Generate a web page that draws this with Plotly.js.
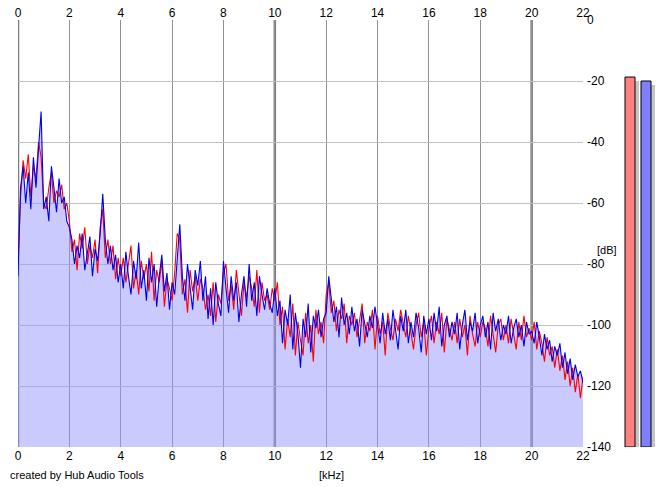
<!DOCTYPE html>
<html>
<head>
<meta charset="utf-8">
<script src="https://cdn.plot.ly/plotly-3.0.1.min.js"></script>
<style>html,body{margin:0;padding:0;background:#fff;}#chart{width:665px;height:487px;}</style>
</head>
<body>
<div id="chart"></div>
<script>
// Frequency axis (kHz), one value every 0.1 kHz from 0 to 22
var freqKHz = [];
for (var i = 0; i <= 220; i++) { freqKHz.push(Math.round(i) / 10); }

// Left channel (red) spectrum, dB
var leftDb = [
-80,-58,-46,-52,-44,-58,-48,-52,-40,-45,
-60,-62,-55,-50,-60,-56,-58,-54,-62,-60,
-66,-76,-72,-82,-70,-75,-68,-80,-74,-78,
-72,-83,-68,-62,-78,-72,-80,-74,-85,-78,
-84,-78,-86,-80,-74,-88,-82,-90,-79,-85,
-80,-89,-76,-92,-82,-86,-79,-94,-85,-88,
-92,-83,-70,-72,-90,-85,-96,-82,-89,-84,
-92,-85,-88,-95,-90,-97,-86,-99,-90,-93,
-83,-80,-92,-87,-95,-82,-90,-97,-86,-91,
-84,-88,-94,-82,-96,-86,-92,-90,-95,-88,
-92,-86,-100,-94,-108,-98,-104,-93,-110,-99,
-105,-110,-96,-106,-100,-112,-95,-103,-99,-106,
-90,-86,-96,-92,-102,-95,-98,-93,-106,-97,
-100,-96,-104,-98,-93,-106,-99,-102,-95,-108,
-97,-103,-99,-110,-96,-101,-105,-98,-102,-95,
-99,-104,-97,-102,-108,-100,-96,-104,-99,-110,
-101,-97,-106,-99,-103,-96,-109,-98,-102,-105,
-99,-106,-98,-104,-100,-110,-97,-103,-107,-99,
-104,-99,-101,-107,-97,-103,-109,-100,-98,-105,
-100,-106,-98,-103,-108,-99,-105,-97,-104,-101,
-105,-99,-108,-102,-106,-112,-104,-110,-107,-114,
-108,-115,-110,-118,-112,-120,-114,-122,-116,-124,-117
];

// Right channel (blue) spectrum, dB
var rightDb = [
-84,-55,-48,-60,-50,-62,-45,-55,-42,-30,
-62,-58,-66,-48,-55,-63,-52,-60,-58,-66,
-68,-72,-80,-74,-78,-70,-82,-76,-71,-84,
-75,-79,-70,-57,-72,-80,-74,-82,-77,-86,
-80,-88,-76,-84,-90,-79,-85,-73,-88,-82,
-92,-78,-86,-80,-94,-84,-77,-89,-83,-95,
-86,-90,-78,-67,-84,-92,-80,-88,-95,-82,
-87,-79,-92,-84,-98,-88,-100,-86,-93,-97,
-79,-88,-96,-84,-92,-86,-99,-90,-84,-94,
-80,-92,-86,-97,-84,-90,-95,-88,-93,-96,
-88,-97,-92,-106,-95,-100,-90,-108,-96,-103,
-114,-98,-104,-93,-109,-97,-101,-95,-104,-98,
-96,-84,-92,-99,-94,-104,-91,-100,-96,-103,
-94,-102,-98,-107,-95,-100,-104,-97,-101,-94,
-100,-106,-96,-103,-98,-105,-95,-101,-108,-97,
-102,-95,-106,-99,-104,-96,-101,-109,-97,-103,
-98,-105,-96,-102,-94,-107,-100,-97,-104,-99,
-103,-96,-108,-100,-95,-105,-99,-102,-96,-106,
-100,-97,-104,-99,-108,-96,-102,-98,-105,-100,
-103,-97,-106,-101,-98,-104,-100,-107,-99,-103,
-102,-106,-99,-104,-110,-103,-108,-105,-112,-107,
-110,-106,-114,-109,-116,-111,-118,-113,-117,-115,-119
];

// Level meters (dB): left, right
var meterNames = ['L', 'R'];
var meterDb = [-18.7, -20];

var xTicks = [0,2,4,6,8,10,12,14,16,18,20,22];
var yTicks = [0,-20,-40,-60,-80,-100,-120,-140];
var majorLines = [0,10,20];

var yMin = -140, yMax = 0;
var floorDb = freqKHz.map(function(){ return yMin; });

var W = 665, H = 487, mL = 18, mR = 5, mT = 20, mB = 40;
var paperW = W - mL - mR;
var plotRightPx = 583;
var xDomEnd = (plotRightPx - mL) / paperW;
var meterPxL = 620, meterPxR = 658;
var shadowDb = 4 / ((447 - 20) / 140);

var traces = [
  {x: freqKHz, y: floorDb, type: 'scatter', mode: 'lines', line: {width: 0, color: 'rgba(0,0,0,0)'},
   hoverinfo: 'skip', showlegend: false},
  {x: freqKHz, y: rightDb, type: 'scatter', mode: 'lines', fill: 'tonexty',
   fillcolor: 'rgba(150,150,255,0.5)', line: {width: 0, color: 'rgba(0,0,0,0)'},
   hoverinfo: 'skip', showlegend: false},
  {x: freqKHz, y: leftDb, type: 'scatter', mode: 'lines', line: {color: '#ff0000', width: 1.1},
   name: 'L', showlegend: false},
  {x: freqKHz, y: rightDb, type: 'scatter', mode: 'lines', line: {color: '#0000ee', width: 1.1},
   name: 'R', showlegend: false},
  // dummy trace to display the top axis
  {x: freqKHz, y: freqKHz.map(function(){ return null; }), xaxis: 'x2', yaxis: 'y',
   type: 'scatter', mode: 'lines', hoverinfo: 'skip', showlegend: false},
  // meter shadows
  {x: [630 + 4, 646 + 4], y: meterDb.map(function(v){ return v - yMin; }), base: [yMin - shadowDb, yMin - shadowDb],
   type: 'bar', xaxis: 'x3', yaxis: 'y3', width: 10, marker: {color: '#c4c4c4', line: {width: 0}},
   hoverinfo: 'skip', showlegend: false, cliponaxis: false},
  {x: [630, 646], y: meterDb.map(function(v){ return v - yMin; }), base: [yMin, yMin],
   type: 'bar', xaxis: 'x3', yaxis: 'y3', width: 10,
   marker: {color: ['#ff8080', '#8080ff'], line: {color: '#000000', width: 1}},
   text: meterNames, textposition: 'none', hoverinfo: 'skip', showlegend: false, cliponaxis: false}
];

var tickFont = {family: 'Liberation Sans, Arial, sans-serif', size: 12, color: '#000'};

var shapes = majorLines.map(function(v){
  return {type: 'line', xref: 'x', yref: 'y', x0: v, x1: v, y0: yMin, y1: yMax,
          line: {color: '#7c7c7c', width: 2.5}, layer: 'below'};
});

var layout = {
  width: W, height: H,
  margin: {l: mL, r: mR, t: mT, b: mB, pad: 0},
  paper_bgcolor: '#ffffff', plot_bgcolor: '#ffffff',
  showlegend: false,
  hovermode: false,
  barmode: 'overlay',
  xaxis: {range: [0, 22], domain: [0, xDomEnd], tickvals: xTicks, ticktext: xTicks.map(String),
          showgrid: true, gridcolor: '#909090', gridwidth: 1, zeroline: false, showline: false,
          ticks: '', tickfont: tickFont, fixedrange: true, anchor: 'y'},
  xaxis2: {range: [0, 22], overlaying: 'x', side: 'top', matches: 'x', tickvals: xTicks,
           ticktext: xTicks.map(String), showgrid: false, zeroline: false, showline: false,
           ticks: '', tickfont: tickFont, anchor: 'y'},
  yaxis: {range: [yMin, yMax], domain: [0, 1], side: 'right', anchor: 'x', tickvals: yTicks,
          ticktext: yTicks.map(String), showgrid: true, gridcolor: '#c0c0c0', gridwidth: 1,
          zeroline: false, showline: false, ticks: '', tickfont: tickFont, fixedrange: true,
          ticklabelstandoff: 3},
  xaxis3: {domain: [(meterPxL - mL) / paperW, (meterPxR - mL) / paperW], range: [meterPxL, meterPxR],
           visible: false, anchor: 'y3', fixedrange: true},
  yaxis3: {domain: [0, 1], range: [yMin, yMax], visible: false, anchor: 'x3', fixedrange: true},
  shapes: shapes,
  annotations: [
    {text: 'created by Hub Audio Tools', xref: 'paper', yref: 'paper', x: (8 - mL) / paperW, y: -0.066,
     xanchor: 'left', yanchor: 'middle', showarrow: false,
     font: {family: 'Liberation Sans, Arial, sans-serif', size: 11, color: '#000'}},
    {text: '[kHz]', xref: 'x', yref: 'paper', x: 12.2, y: -0.048, xanchor: 'center', yanchor: 'top',
     showarrow: false, font: {family: 'Liberation Sans, Arial, sans-serif', size: 11, color: '#000'}},
    {text: '[dB]', xref: 'paper', yref: 'y', x: (607 - mL) / paperW, y: -75.5, xanchor: 'center',
     yanchor: 'middle', showarrow: false,
     font: {family: 'Liberation Sans, Arial, sans-serif', size: 11, color: '#000'}}
  ]
};

Plotly.newPlot('chart', traces, layout, {displayModeBar: false, staticPlot: true});
</script>
</body>
</html>
